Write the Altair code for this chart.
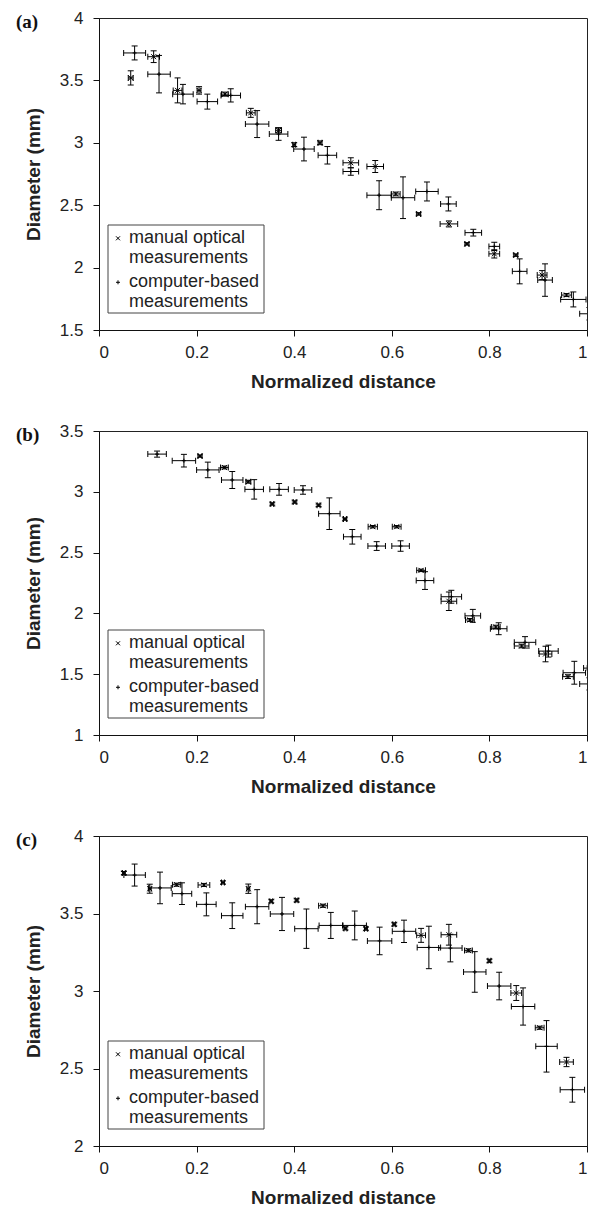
import altair as alt
import pandas as pd

# ---------------- Panel (a) ----------------
A_MAN_X = [0.065, 0.112, 0.161, 0.205, 0.258, 0.311, 0.368, 0.400, 0.453, 0.516, 0.566, 0.608, 0.655, 0.717, 0.754, 0.810, 0.854, 0.908, 0.958]
A_MAN_Y = [3.52, 3.69, 3.42, 3.42, 3.39, 3.24, 3.10, 2.985, 3.00, 2.84, 2.81, 2.59, 2.43, 2.35, 2.19, 2.11, 2.10, 1.94, 1.78]
A_MAN_XERR = [0.005, 0.012, 0.009, 0.004, 0.007, 0.009, 0.006, 0.003, 0.004, 0.016, 0.017, 0.009, 0.004, 0.018, 0.004, 0.011, 0.004, 0.010, 0.010]
A_MAN_YERR = [0.057, 0.047, 0.100, 0.030, 0.016, 0.036, 0.020, 0.015, 0.015, 0.040, 0.048, 0.015, 0.010, 0.024, 0.010, 0.033, 0.010, 0.036, 0.012]

A_CMP_X = [0.073, 0.123, 0.172, 0.222, 0.270, 0.324, 0.368, 0.420, 0.468, 0.516, 0.574, 0.623, 0.672, 0.716, 0.767, 0.810, 0.862, 0.914, 0.972, 1.005]
A_CMP_Y = [3.72, 3.55, 3.39, 3.33, 3.38, 3.15, 3.07, 2.95, 2.90, 2.77, 2.58, 2.56, 2.61, 2.51, 2.28, 2.17, 1.97, 1.90, 1.745, 1.63]
A_CMP_XERR = [0.0225, 0.023, 0.021, 0.021, 0.020, 0.024, 0.019, 0.021, 0.019, 0.016, 0.025, 0.024, 0.023, 0.016, 0.017, 0.011, 0.015, 0.015, 0.026, 0.020]
A_CMP_YERR = [0.056, 0.150, 0.078, 0.060, 0.053, 0.108, 0.050, 0.095, 0.070, 0.030, 0.116, 0.167, 0.076, 0.056, 0.027, 0.033, 0.100, 0.130, 0.060, 0.050]

# ---------------- Panel (b) ----------------
B_MAN_X = [0.207, 0.257, 0.306, 0.355, 0.401, 0.450, 0.504, 0.561, 0.610, 0.660, 0.717, 0.760, 0.813, 0.866, 0.915, 0.961, 1.005]
B_MAN_Y = [3.294, 3.20, 3.083, 2.90, 2.916, 2.89, 2.776, 2.713, 2.713, 2.354, 2.10, 1.946, 1.888, 1.732, 1.666, 1.48, 1.55]
B_MAN_XERR = [0.004, 0.008, 0.005, 0.003, 0.003, 0.003, 0.003, 0.0095, 0.009, 0.009, 0.016, 0.009, 0.009, 0.015, 0.013, 0.011, 0.012]
B_MAN_YERR = [0.010, 0.012, 0.012, 0.010, 0.010, 0.010, 0.010, 0.010, 0.010, 0.010, 0.076, 0.012, 0.015, 0.015, 0.064, 0.015, 0.010]

B_CMP_X = [0.119, 0.174, 0.223, 0.273, 0.318, 0.369, 0.418, 0.472, 0.519, 0.569, 0.618, 0.668, 0.722, 0.766, 0.819, 0.873, 0.921, 0.974, 1.005]
B_CMP_Y = [3.31, 3.256, 3.18, 3.097, 3.02, 3.02, 3.015, 2.82, 2.63, 2.554, 2.554, 2.27, 2.137, 1.98, 1.874, 1.762, 1.69, 1.512, 1.42]
B_CMP_XERR = [0.019, 0.024, 0.023, 0.022, 0.019, 0.019, 0.018, 0.022, 0.018, 0.018, 0.018, 0.018, 0.021, 0.016, 0.017, 0.022, 0.020, 0.023, 0.020]
B_CMP_YERR = [0.025, 0.052, 0.064, 0.070, 0.080, 0.048, 0.035, 0.130, 0.060, 0.036, 0.043, 0.073, 0.053, 0.053, 0.049, 0.047, 0.049, 0.094, 0.050]

# ---------------- Panel (c) ----------------
C_MAN_X = [0.051, 0.104, 0.159, 0.215, 0.254, 0.306, 0.353, 0.405, 0.459, 0.505, 0.547, 0.605, 0.660, 0.717, 0.757, 0.800, 0.855, 0.903, 0.958]
C_MAN_Y = [3.761, 3.66, 3.686, 3.684, 3.70, 3.66, 3.579, 3.585, 3.55, 3.404, 3.402, 3.43, 3.359, 3.363, 3.262, 3.195, 2.987, 2.763, 2.542]
C_MAN_XERR = [0.003, 0.003, 0.0085, 0.012, 0.003, 0.003, 0.003, 0.003, 0.009, 0.003, 0.003, 0.003, 0.009, 0.016, 0.008, 0.003, 0.011, 0.009, 0.014]
C_MAN_YERR = [0.010, 0.029, 0.010, 0.010, 0.010, 0.030, 0.010, 0.010, 0.010, 0.010, 0.010, 0.010, 0.045, 0.067, 0.010, 0.010, 0.048, 0.010, 0.030]

C_CMP_X = [0.073, 0.125, 0.170, 0.220, 0.273, 0.324, 0.375, 0.425, 0.475, 0.524, 0.575, 0.625, 0.676, 0.720, 0.770, 0.820, 0.869, 0.917, 0.970]
C_CMP_Y = [3.748, 3.665, 3.628, 3.559, 3.486, 3.544, 3.497, 3.402, 3.423, 3.423, 3.323, 3.385, 3.281, 3.277, 3.123, 3.032, 2.90, 2.643, 2.363]
C_CMP_XERR = [0.022, 0.023, 0.020, 0.020, 0.022, 0.024, 0.024, 0.024, 0.024, 0.024, 0.025, 0.024, 0.024, 0.024, 0.023, 0.024, 0.024, 0.022, 0.025]
C_CMP_YERR = [0.071, 0.102, 0.070, 0.074, 0.083, 0.110, 0.107, 0.127, 0.084, 0.093, 0.089, 0.072, 0.137, 0.089, 0.131, 0.089, 0.120, 0.166, 0.080]

X_TICKS = [0, 0.2, 0.4, 0.6, 0.8, 1]
A_Y_TICKS = [1.5, 2, 2.5, 3, 3.5, 4]
B_Y_TICKS = [1, 1.5, 2, 2.5, 3, 3.5]
C_Y_TICKS = [2, 2.5, 3, 3.5, 4]

LEGEND_LINES = ["manual optical", "measurements", "computer-based", "measurements"]

X_SHAPE = "M-1,-1L1,1M-1,1L1,-1"
PLUS_SHAPE = "M-1,0L1,0M0,-1L0,1"

WIDTH = 488
FONT = "Liberation Sans, Arial, Helvetica, sans-serif"


def make_df(mx, my, mxe, mye, cx, cy, cxe, cye):
    m = pd.DataFrame({"x": mx, "y": my, "xe": mxe, "ye": mye})
    m["series"] = "manual"
    c = pd.DataFrame({"x": cx, "y": cy, "xe": cxe, "ye": cye})
    c["series"] = "computer"
    df = pd.concat([m, c], ignore_index=True)
    df["xlo"] = df["x"] - df["xe"]
    df["xhi"] = df["x"] + df["xe"]
    df["ylo"] = df["y"] - df["ye"]
    df["yhi"] = df["y"] + df["ye"]
    return df


def panel(tag, df, ydomain, yticks, height):
    xs = alt.Scale(domain=[0, 1], nice=False, zero=False)
    ys = alt.Scale(domain=ydomain, nice=False, zero=False)
    xaxis = alt.Axis(values=X_TICKS, format="~g", title="Normalized distance",
                     grid=False, labelPadding=8, titlePadding=12, tickSize=6)
    yaxis = alt.Axis(values=yticks, format="~g", title="Diameter (mm)",
                     grid=False, labelPadding=10, titlePadding=16, tickSize=6)

    def X(f):
        return alt.X(f, type="quantitative", scale=xs, axis=xaxis)

    def Y(f):
        return alt.Y(f, type="quantitative", scale=ys, axis=yaxis)

    base = alt.Chart(df)
    hbar = base.mark_rule(color="black", strokeWidth=1, clip=True).encode(
        x=X("xlo"), x2="xhi", y=Y("y"))
    vbar = base.mark_rule(color="black", strokeWidth=1, clip=True).encode(
        x=X("x"), y=Y("ylo"), y2="yhi")
    cap_l = base.mark_tick(orient="vertical", size=6, thickness=1, color="black", clip=True, opacity=1).encode(
        x=X("xlo"), y=Y("y"))
    cap_r = base.mark_tick(orient="vertical", size=6, thickness=1, color="black", clip=True, opacity=1).encode(
        x=X("xhi"), y=Y("y"))
    cap_b = base.mark_tick(orient="horizontal", size=6, thickness=1, color="black", clip=True, opacity=1).encode(
        x=X("x"), y=Y("ylo"))
    cap_t = base.mark_tick(orient="horizontal", size=6, thickness=1, color="black", clip=True, opacity=1).encode(
        x=X("x"), y=Y("yhi"))
    man = base.transform_filter(alt.datum.series == "manual").mark_point(
        shape=X_SHAPE, size=25, strokeWidth=1, color="black", filled=False, clip=True, opacity=1).encode(
        x=X("x"), y=Y("y"))
    cmp_ = base.transform_filter(alt.datum.series == "computer").mark_point(
        shape=PLUS_SHAPE, size=16, strokeWidth=1, color="black", filled=False, clip=True, opacity=1).encode(
        x=X("x"), y=Y("y"))

    one = alt.Data(values=[{}])
    tag_text = alt.Chart(one).mark_text(
        font="Liberation Serif", fontWeight="bold", fontSize=19, align="left",
        baseline="middle", color="#111").encode(
        x=alt.value(-83), y=alt.value(4), text=alt.value(tag))

    top = height - 105
    box = alt.Chart(one).mark_rect(fill="white", stroke="#444", strokeWidth=1).encode(
        x=alt.value(9), x2=alt.value(165), y=alt.value(top), y2=alt.value(height - 17))
    offs = [13.3, 33.3, 57.3, 77.3]
    texts = [alt.Chart(one).mark_text(font=FONT, fontSize=18, align="left", baseline="middle",
                                      color="#222").encode(
        x=alt.value(30), y=alt.value(top + o), text=alt.value(t)) for t, o in zip(LEGEND_LINES, offs)]
    lm = alt.Chart(one).mark_point(shape=X_SHAPE, size=16, strokeWidth=1, color="black",
                                   filled=False, opacity=1).encode(
        x=alt.value(19), y=alt.value(top + offs[0]))
    lp = alt.Chart(one).mark_point(shape=PLUS_SHAPE, size=16, strokeWidth=1, color="black",
                                   filled=False, opacity=1).encode(
        x=alt.value(19), y=alt.value(top + offs[2]))

    return alt.layer(hbar, vbar, cap_l, cap_r, cap_b, cap_t, man, cmp_,
                     box, *texts, lm, lp, tag_text).properties(width=WIDTH, height=height)


pa = panel("(a)", make_df(A_MAN_X, A_MAN_Y, A_MAN_XERR, A_MAN_YERR,
                          A_CMP_X, A_CMP_Y, A_CMP_XERR, A_CMP_YERR), [1.5, 4], A_Y_TICKS, 312)
pb = panel("(b)", make_df(B_MAN_X, B_MAN_Y, B_MAN_XERR, B_MAN_YERR,
                          B_CMP_X, B_CMP_Y, B_CMP_XERR, B_CMP_YERR), [1, 3.5], B_Y_TICKS, 304)
pc = panel("(c)", make_df(C_MAN_X, C_MAN_Y, C_MAN_XERR, C_MAN_YERR,
                          C_CMP_X, C_CMP_Y, C_CMP_XERR, C_CMP_YERR), [2, 4], C_Y_TICKS, 310)

chart = alt.vconcat(pa, pb, pc, spacing=29).properties(
    padding={"left": 7, "top": 0, "right": 0, "bottom": 0},
    background="white",
).configure_view(
    stroke="#222", strokeWidth=1
).configure_axis(
    domainColor="#111", tickColor="#111", labelColor="#222", titleColor="#222",
    labelFont=FONT, labelFontSize=17, titleFont=FONT, titleFontSize=19,
    titleFontWeight="bold", domainWidth=1, tickWidth=1
)

chart.save("out.html", embed_options={"renderer": "svg", "actions": False})
